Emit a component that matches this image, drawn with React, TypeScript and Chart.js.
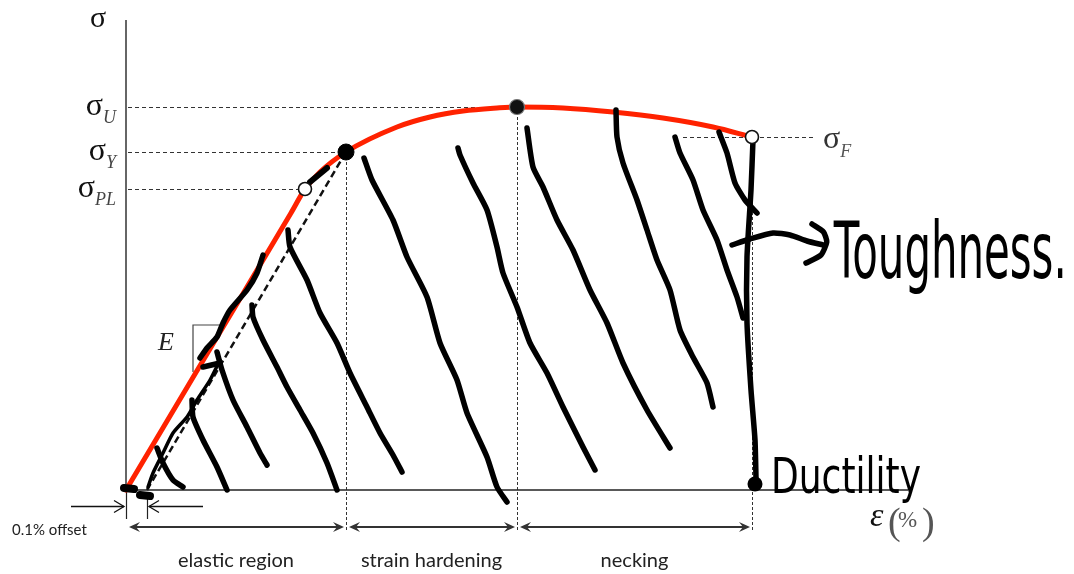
import React, { useEffect, useRef } from 'react';
import { Chart, registerables } from 'chart.js';

Chart.register(...registerables);

// ---- axes (strain ε in %, stress σ in arbitrary MPa-like units) ----
const strainAxisMax = 31.28;
const stressAxisMax = 470;

// ---- characteristic points ----
const pointNames = ['PL', 'Y', 'U', 'F'];
const pointStrain = [7.16, 8.8, 15.64, 25.04];
const pointStress = [301, 338, 383, 353];
const offsetStrain = 0.84;
const ductilityStrain = 25.16;
const ductilityStress = 6;

// ---- stress-strain curve ----
const curveStrain = [0, 3.5, 6.6, 7.16, 7.76, 8.8, 10.84, 12.16, 13.48, 14.84, 15.64, 17.48, 19.48, 21.48, 23.48, 25.04];
const curveStress = [0, 147, 277, 301, 318, 338, 363, 373, 379, 382, 383, 382, 378, 372, 363, 353];

// ---- regions ----
const regionNames = ['elastic region', 'strain hardening', 'necking'];
const regionBounds = [0, 8.8, 15.64, 25.04];

// ---- guides ----
const fractureGuideStrain = [22.28, 27.6];
const slopeTriangleStrain = [2.68, 3.93];
const slopeTriangleStress = [118, 165];
const modulusLabelStrain = 1.6;
const modulusLabelStress = 147;

// ---- hand-drawn annotation strokes [ε, σ] ----
const hatchE1 = [[6.48, 260], [6.56, 243], [7.24, 210], [7.76, 177], [8.44, 147], [8.96, 117], [9.64, 83], [10.16, 57], [10.68, 35], [11.04, 18]];
const hatchE2 = [[5.04, 185], [5.08, 173], [5.48, 150], [6.04, 123], [6.44, 103], [6.96, 80], [7.48, 57], [8.04, 27], [8.44, 0]];
const hatchE3 = [[3.64, 138], [3.84, 120], [4.28, 90], [4.84, 63], [5.36, 37], [5.64, 25]];
const hatchE3Hook = [[3.08, 123], [3.76, 127]];
const hatchE4 = [[2.64, 90], [2.68, 73], [3.08, 50], [3.64, 23], [4.04, 0]];
const hatchE5 = [[1.24, 42], [1.48, 27], [1.88, 10], [2.28, 3]];
const hatchH1 = [[9.52, 332], [9.84, 310], [10.68, 270], [11.24, 233], [12.04, 193], [12.56, 147], [13.24, 110], [13.64, 77], [14.44, 33], [14.84, 3], [15.24, -12]];
const hatchH2 = [[13.28, 342], [13.36, 335], [13.88, 307], [14.44, 280], [14.84, 243], [15.08, 217], [15.64, 183], [16.16, 147], [16.84, 117], [17.48, 83], [18.28, 43], [18.76, 20]];
const hatchN1 = [[16.04, 362], [16.28, 323], [16.68, 303], [17.24, 270], [17.88, 240], [18.56, 200], [19.24, 167], [19.88, 127], [20.84, 80], [21.76, 42]];
const hatchN2 = [[19.6, 380], [19.64, 353], [19.88, 327], [20.44, 290], [20.84, 260], [21.24, 230], [21.76, 200], [22.16, 160], [22.68, 133], [23.24, 107], [23.48, 83]];
const hatchN3 = [[21.96, 353], [22.16, 337], [22.68, 310], [23.08, 280], [23.64, 250], [24.04, 220], [24.44, 193], [24.68, 172]];
const hatchN4 = [[23.72, 358], [24.04, 337], [24.36, 307], [24.76, 290], [25.24, 277]];
const fractureDrop = [[25.08, 350], [25.0, 300], [24.84, 233], [24.84, 167], [25.0, 100], [25.16, 50], [25.2, 12]];
const traceRed = [[5.48, 235], [5.24, 217], [4.84, 200], [4.16, 180], [3.88, 167], [3.64, 153], [3.24, 142], [2.96, 132]];
const traceOffset = [[3.76, 130], [3.36, 110], [2.84, 90], [2.44, 73], [1.88, 57], [1.48, 37], [1.08, 17], [0.88, 3]];
const traceProportional = [[7.36, 308], [8.04, 322]];
const originBlob1 = [[-0.08, 2], [0.32, 1]];
const originBlob2 = [[0.56, -5], [0.96, -6]];
const toughnessArrow = [[24.24, 245], [24.96, 251], [25.88, 257], [26.56, 255], [27.24, 249], [27.88, 245]];
const toughnessArrowHead = [[27.44, 266], [27.9, 258], [28.03, 248], [27.8, 235], [27.2, 227]];

const annotationNotes = ['Toughness.', 'Ductility'];

const toXY = (pts: number[][]) => pts.map(([x, y]) => ({ x, y }));

const stroke = (pts: number[][], width = 5.5) => ({
  data: toXY(pts),
  borderColor: '#000',
  backgroundColor: '#000',
  borderWidth: width,
  pointRadius: 0,
  tension: 0.2,
  borderCapStyle: 'round',
  borderJoinStyle: 'round',
  clip: false,
  fill: false,
});

const idx = (n: string) => pointNames.indexOf(n);

const drawBarbedHead = (ctx: CanvasRenderingContext2D, x: number, y: number, dir: number) => {
  ctx.beginPath();
  ctx.moveTo(x, y);
  ctx.lineTo(x - dir * 11, y - 5);
  ctx.lineTo(x - dir * 7, y);
  ctx.lineTo(x - dir * 11, y + 5);
  ctx.closePath();
  ctx.fill();
};

const drawOpenHead = (ctx: CanvasRenderingContext2D, x: number, y: number, dir: number) => {
  ctx.beginPath();
  ctx.moveTo(x - dir * 10, y - 6);
  ctx.lineTo(x, y);
  ctx.lineTo(x - dir * 10, y + 6);
  ctx.stroke();
};

const diagramPlugin = {
  id: 'diagram',
  beforeDatasetsDraw(chart: any) {
    const { ctx, scales } = chart;
    const X = (v: number) => scales.x.getPixelForValue(v);
    const Y = (v: number) => scales.y.getPixelForValue(v);
    ctx.save();

    // horizontal guides to the stress axis
    ctx.strokeStyle = '#333';
    ctx.lineWidth = 1;
    ctx.setLineDash([4, 3]);
    ['PL', 'Y', 'U'].forEach((n) => {
      const i = idx(n);
      const yy = Math.round(Y(pointStress[i])) + 0.5;
      ctx.beginPath();
      ctx.moveTo(X(0) + 2, yy);
      ctx.lineTo(X(pointStrain[i]), yy);
      ctx.stroke();
    });
    {
      const i = idx('F');
      const yy = Math.round(Y(pointStress[i])) + 0.5;
      ctx.beginPath();
      ctx.moveTo(X(fractureGuideStrain[0]), yy);
      ctx.lineTo(X(fractureGuideStrain[1]), yy);
      ctx.stroke();
    }
    // vertical guides down to region arrows
    ctx.setLineDash([3, 2]);
    ['Y', 'U', 'F'].forEach((n) => {
      const i = idx(n);
      const xx = Math.round(X(pointStrain[i])) + 0.5;
      ctx.beginPath();
      ctx.moveTo(xx, Y(pointStress[i]));
      ctx.lineTo(xx, Y(0) + 42);
      ctx.stroke();
    });
    ctx.setLineDash([]);

    // axes
    ctx.strokeStyle = '#666';
    ctx.lineWidth = 2;
    ctx.beginPath();
    ctx.moveTo(X(0), Y(stressAxisMax));
    ctx.lineTo(X(0), Y(0));
    ctx.stroke();
    ctx.strokeStyle = '#222';
    ctx.lineWidth = 1.5;
    ctx.beginPath();
    ctx.moveTo(X(0), Y(0));
    ctx.lineTo(X(strainAxisMax), Y(0));
    ctx.stroke();

    // offset markers
    ctx.strokeStyle = '#222';
    ctx.lineWidth = 1.2;
    [0, offsetStrain].forEach((v) => {
      const xx = Math.round(X(v)) + 0.5;
      ctx.beginPath();
      ctx.moveTo(xx, Y(0) + 2);
      ctx.lineTo(xx, Y(0) + 29);
      ctx.stroke();
    });

    // slope triangle
    ctx.strokeStyle = '#444';
    ctx.lineWidth = 1.2;
    ctx.beginPath();
    ctx.moveTo(X(slopeTriangleStrain[0]), Y(slopeTriangleStress[0]));
    ctx.lineTo(X(slopeTriangleStrain[0]), Y(slopeTriangleStress[1]));
    ctx.lineTo(X(slopeTriangleStrain[1]), Y(slopeTriangleStress[1]));
    ctx.stroke();

    ctx.restore();
  },
  afterDatasetsDraw(chart: any) {
    const { ctx, scales } = chart;
    const X = (v: number) => scales.x.getPixelForValue(v);
    const Y = (v: number) => scales.y.getPixelForValue(v);
    ctx.save();

    // axis symbols
    ctx.fillStyle = '#111';
    ctx.textAlign = 'center';
    ctx.textBaseline = 'alphabetic';
    ctx.font = '30px "Liberation Serif", serif';
    ctx.fillText('σ', X(0) - 28, Y(stressAxisMax) + 7);

    // stress level labels
    const sigFont = '32px "Liberation Serif", serif';
    const subFont = 'italic 18px "Liberation Serif", serif';
    ctx.textAlign = 'left';
    ['U', 'Y', 'PL'].forEach((n) => {
      const i = idx(n);
      ctx.font = sigFont;
      const sw = ctx.measureText('σ').width;
      ctx.font = subFont;
      const subW = ctx.measureText(n).width;
      const left = X(0) - 10 - sw - subW;
      const yy = Y(pointStress[i]);
      ctx.font = sigFont;
      ctx.fillStyle = '#111';
      ctx.fillText('σ', left, yy + 8);
      ctx.font = subFont;
      ctx.fillStyle = '#444';
      ctx.fillText(n, left + sw, yy + 16);
    });
    {
      const i = idx('F');
      const yy = Y(pointStress[i]);
      const left = X(fractureGuideStrain[1]) + 7;
      ctx.font = sigFont;
      const sw = ctx.measureText('σ').width;
      ctx.fillStyle = '#333';
      ctx.fillText('σ', left, yy + 11);
      ctx.font = subFont;
      ctx.fillStyle = '#555';
      ctx.fillText('F', left + sw, yy + 20);
    }

    // modulus label
    ctx.font = 'italic 26px "Liberation Serif", serif';
    ctx.fillStyle = '#222';
    ctx.textAlign = 'center';
    ctx.textBaseline = 'middle';
    ctx.fillText('E', X(modulusLabelStrain), Y(modulusLabelStress));

    // strain axis label ε(%)
    ctx.textBaseline = 'alphabetic';
    ctx.textAlign = 'left';
    const ex = X(strainAxisMax) - 38;
    const ey = Y(0) + 36;
    ctx.font = 'italic 34px "Liberation Serif", serif';
    ctx.fillStyle = '#111';
    ctx.fillText('ε', ex, ey);
    ctx.font = '38px "Liberation Serif", serif';
    ctx.fillStyle = '#555';
    ctx.fillText('(', ex + 18, ey + 8);
    ctx.fillText(')', ex + 52, ey + 8);
    ctx.font = '23px "Liberation Serif", serif';
    ctx.fillText('%', ex + 28, ey + 1);

    // offset arrows + label
    ctx.strokeStyle = '#111';
    ctx.fillStyle = '#111';
    ctx.lineWidth = 1.3;
    const ay = Math.round(Y(0) + 16) + 0.5;
    ctx.beginPath();
    ctx.moveTo(X(0) - 55, ay);
    ctx.lineTo(X(0) - 2, ay);
    ctx.stroke();
    drawOpenHead(ctx, X(0) - 2, ay, 1);
    ctx.beginPath();
    ctx.moveTo(X(offsetStrain) + 56, ay);
    ctx.lineTo(X(offsetStrain) + 2, ay);
    ctx.stroke();
    drawOpenHead(ctx, X(offsetStrain) + 2, ay, -1);
    ctx.font = '15px Lato, "Open Sans", sans-serif';
    ctx.fillStyle = '#222';
    ctx.textAlign = 'left';
    ctx.fillText('0.1% offset', X(0) - 114, Y(0) + 45);

    // region double arrows + labels
    ctx.strokeStyle = '#333';
    ctx.fillStyle = '#333';
    ctx.lineWidth = 2;
    const ry = Math.round(Y(0) + 37);
    for (let r = 0; r < regionNames.length; r++) {
      const a = X(regionBounds[r]) + 3;
      const b = X(regionBounds[r + 1]) - 2;
      ctx.beginPath();
      ctx.moveTo(a + 4, ry);
      ctx.lineTo(b - 4, ry);
      ctx.stroke();
      drawBarbedHead(ctx, a, ry, -1);
      drawBarbedHead(ctx, b, ry, 1);
    }
    ctx.font = '20px Lato, "Open Sans", sans-serif';
    ctx.fillStyle = '#222';
    ctx.textAlign = 'center';
    for (let r = 0; r < regionNames.length; r++) {
      const cx = (X(regionBounds[r]) + X(regionBounds[r + 1])) / 2;
      ctx.fillText(regionNames[r], cx, Y(0) + 77);
    }

    // handwritten notes
    ctx.fillStyle = '#000';
    ctx.textAlign = 'left';
    ctx.font = '78px "DejaVu Sans", sans-serif';
    const tipX = X(toughnessArrowHead[2][0]);
    const tipY = Y(toughnessArrowHead[2][1]);
    ctx.fillText(annotationNotes[0], tipX + 7, tipY + 36, 233);
    ctx.font = '50px "DejaVu Sans", sans-serif';
    ctx.fillText(annotationNotes[1], X(ductilityStrain) + 16, Y(0) + 3, 150);

    ctx.restore();
  },
};

export default function App() {
  const canvasRef = useRef<HTMLCanvasElement | null>(null);

  useEffect(() => {
    document.body.style.margin = '0';
    const canvas = canvasRef.current;
    if (!canvas) return;

    const pointDs = (names: string[], radius: number, fillColor: string, borderColor: string, borderWidth: number) => ({
      data: names.map((n) => ({ x: pointStrain[idx(n)], y: pointStress[idx(n)] })),
      showLine: false,
      pointRadius: radius,
      pointBackgroundColor: fillColor,
      pointBorderColor: borderColor,
      pointBorderWidth: borderWidth,
      borderWidth: 0,
      clip: false,
    });

    const chart = new Chart(canvas, {
      type: 'line',
      data: {
        datasets: [
          // drawn on top first
          pointDs(['PL', 'F'], 6.5, '#fff', '#111', 1.6),
          pointDs(['Y'], 8, '#000', '#000', 1),
          pointDs(['U'], 7.5, '#111', '#777', 1.2),
          {
            data: [{ x: ductilityStrain, y: ductilityStress }],
            showLine: false,
            pointRadius: 7.5,
            pointBackgroundColor: '#000',
            pointBorderColor: '#000',
            borderWidth: 0,
            clip: false,
          },
          stroke(toughnessArrow),
          stroke(toughnessArrowHead),
          stroke(fractureDrop, 5.5),
          stroke(hatchN4),
          stroke(hatchN3),
          stroke(hatchN2),
          stroke(hatchN1),
          stroke(hatchH2),
          stroke(hatchH1),
          stroke(hatchE1),
          stroke(hatchE2),
          stroke(hatchE3),
          stroke(hatchE3Hook),
          stroke(hatchE4),
          stroke(hatchE5),
          stroke(traceRed, 5.5),
          stroke(traceOffset, 3.5),
          stroke(traceProportional, 6),
          stroke(originBlob1, 8),
          stroke(originBlob2, 8),
          {
            data: [
              { x: offsetStrain, y: 0 },
              { x: pointStrain[idx('Y')], y: pointStress[idx('Y')] },
            ],
            borderColor: '#111',
            borderWidth: 2.5,
            borderDash: [7, 4],
            pointRadius: 0,
            tension: 0,
            clip: false,
            fill: false,
          },
          {
            data: curveStrain.map((x, i) => ({ x, y: curveStress[i] })),
            borderColor: '#ff2200',
            borderWidth: 5,
            pointRadius: 0,
            cubicInterpolationMode: 'monotone',
            borderCapStyle: 'round',
            clip: false,
            fill: false,
          },
        ] as any,
      },
      options: {
        responsive: false,
        devicePixelRatio: 1,
        animation: false,
        events: [],
        layout: { padding: { left: 126, right: 198, top: 20, bottom: 84 } },
        scales: {
          x: { type: 'linear', min: 0, max: 30, display: false },
          y: { type: 'linear', min: 0, max: stressAxisMax, display: false },
        },
        plugins: {
          legend: { display: false },
          tooltip: { enabled: false },
        },
      } as any,
      plugins: [diagramPlugin],
    });

    return () => chart.destroy();
  }, []);

  return (
    <canvas
      ref={canvasRef}
      width={1074}
      height={574}
      style={{ display: 'block', width: 1074, height: 574, background: '#fff' }}
    />
  );
}
